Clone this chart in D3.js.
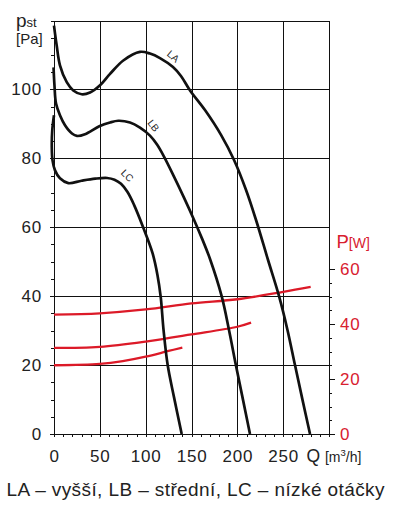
<!DOCTYPE html>
<html lang='cs'>
<head>
  <meta charset='UTF-8'>
  <title>Charakteristika ventilátoru</title>
  <style>
  body {
    margin: 0;
    background: #fff;
  }
  svg {
    display: block;
    font-family: 'Liberation Sans', Arial, sans-serif;
  }
  .grid line {
    stroke: #111;
    stroke-width: 1;
    shape-rendering: crispEdges;
  }
  .tick line {
    stroke: #111;
    shape-rendering: crispEdges;
  }
  .tick text {
    font-size: 17px;
    letter-spacing: 0.8px;
    fill: #222;
  }
  .axis-p .tick text {
    fill: #d8202f;
  }
  .curve {
    fill: none;
    stroke: #111;
    stroke-width: 2.7;
  }
  .power {
    fill: none;
    stroke: #dc1a28;
    stroke-width: 2.3;
  }
  .curve-label {
    font-size: 10px;
    fill: #222;
  }
  </style>
  <script src='https://d3js.org/d3.v7.min.js'></script>
</head>
<body>
  <script>

  // pressure curves [Q m3/h, pst Pa]
  var curveLA = [[0, 118.5], [2.9, 112.8], [6.5, 107], [13.9, 102.1], [21, 99.7], [30.2, 98.6],
    [39.3, 99.1], [50.2, 101.2], [61.1, 104.5], [75.6, 108.4], [93.8, 110.9], [104.7, 110.4],
    [115.6, 109.1], [129.8, 106.5], [138.5, 103.9], [148.4, 99.7], [164.7, 94], [182.2, 86.8],
    [196.4, 79.5], [209.5, 70.8], [220.4, 62.1], [233.5, 50.5], [245.5, 40], [254.7, 30.2],
    [262.9, 20], [271.1, 9.9], [279.3, 0]];
  var curveLB = [[-0.5, 106.4], [0.5, 101.2], [2.2, 95.9], [6.5, 92.5], [12, 89.6], [19.6, 87.2],
    [25, 86.5], [33.8, 87], [49.4, 89.3], [61.1, 90.4], [70.1, 90.9], [82.9, 90.4], [93.8, 88.9],
    [104.7, 86.6], [112.4, 84], [120, 80.5], [130.9, 74.7], [141.8, 68.6], [152.7, 62.2],
    [161.5, 56.7], [170.2, 50.8], [182.9, 40], [190.9, 30.2], [198.5, 19.9], [206.2, 9.9],
    [213.8, 0]];
  var curveLC = [[0, 92.5], [-1.9, 88.1], [-2.4, 83.2], [-1.6, 79.4], [1.1, 76.5], [6.5, 74.2],
    [15.6, 72.8], [30, 73.5], [45, 74.1], [58, 74.3], [66, 73.8], [73.1, 72.6], [80.2, 70.2],
    [87.3, 66.5], [97.1, 60.1], [107.5, 52.5], [112.9, 46.1], [116.4, 39.8], [119.5, 30.2],
    [124, 20], [130.9, 10.7], [139.3, 0]];

  // input power curves [Q m3/h, P W]
  var powerLA = [[0, 43.4], [50, 43.9], [100, 45.3], [150, 47.5], [200, 49], [250, 51.7], [280, 53.5]];
  var powerLB = [[0, 31.3], [50, 31.7], [100, 33.6], [150, 36.2], [200, 39], [215, 40.5]];
  var powerLC = [[0, 25], [50, 25.5], [75, 26.5], [100, 28.1], [125, 30.2], [140, 31.4]];

  // curve names and where their labels sit [Q, Pa, angle]
  var curveNames = ['LA', 'LB', 'LC'];
  var labelSpots = [[130, 109.6, 40], [108.5, 89.5, 52], [80, 75, 45]];

  // tick values
  var qTicks = [0, 50, 100, 150, 200, 250];
  var paTicks = [0, 20, 40, 60, 80, 100];
  var wTicks = [0, 20, 40, 60];

  var svgWidth = 399;
  var svgHeight = 513;

  var svg = d3.select('body').append('svg')
    .attr('width', svgWidth)
    .attr('height', svgHeight);

  var x = d3.scaleLinear().domain([0, 300]).range([54, 329]);
  var y = d3.scaleLinear().domain([0, 120]).range([434, 20.5]);
  var yP = d3.scaleLinear().domain([0, 60]).range([434, 269]);

  // grid

  var grid = svg.append('g').attr('class', 'grid');

  grid.selectAll('.vline')
    .data(d3.range(0, 301, 50))
    .enter()
    .append('line')
    .attr('x1', function (d) { return Math.round(x(d)) + 0.5; })
    .attr('x2', function (d) { return Math.round(x(d)) + 0.5; })
    .attr('y1', y(120))
    .attr('y2', y(0));

  grid.selectAll('.hline')
    .data(d3.range(0, 121, 20))
    .enter()
    .append('line')
    .attr('y1', function (d) { return Math.round(y(d)) + 0.5; })
    .attr('y2', function (d) { return Math.round(y(d)) + 0.5; })
    .attr('x1', x(0))
    .attr('x2', x(300));

  // axes

  function noDomain(g) { g.select('.domain').remove(); }

  svg.append('g')
    .attr('transform', 'translate(0,' + y(0) + ')')
    .call(d3.axisBottom(x).tickValues(d3.range(0, 301, 10)).tickSize(3).tickFormat(''))
    .call(noDomain);

  svg.append('g')
    .attr('transform', 'translate(0,' + y(0) + ')')
    .call(d3.axisBottom(x).tickValues(qTicks).tickSize(3).tickPadding(12.6))
    .call(noDomain);

  svg.append('g')
    .attr('transform', 'translate(' + x(0) + ',0)')
    .call(d3.axisLeft(y).tickValues(d3.range(0, 121, 5)).tickSize(3).tickFormat(''))
    .call(noDomain);

  svg.append('g')
    .attr('transform', 'translate(' + x(0) + ',0)')
    .call(d3.axisLeft(y).tickValues(paTicks).tickSize(4).tickPadding(8))
    .call(noDomain);

  svg.append('g')
    .attr('transform', 'translate(' + x(300) + ',0)')
    .call(d3.axisRight(yP).tickValues(d3.range(0, 61, 5)).tickSize(3).tickFormat(''))
    .call(noDomain);

  svg.append('g')
    .attr('class', 'axis-p')
    .attr('transform', 'translate(' + x(300) + ',0)')
    .call(d3.axisRight(yP).tickValues(wTicks).tickSize(6).tickPadding(5))
    .call(noDomain);

  // axis titles

  var pst = svg.append('text').attr('x', 16).attr('y', 26.7).attr('fill', '#222');
  pst.append('tspan').attr('font-size', '19px').text('p');
  pst.append('tspan').attr('font-size', '13px').text('st');

  svg.append('text')
    .attr('x', 16).attr('y', 43.5)
    .attr('font-size', '15px')
    .attr('fill', '#222')
    .text('[Pa]');

  var pw = svg.append('text').attr('x', 336.5).attr('y', 248.3).attr('fill', '#d8202f');
  pw.append('tspan').attr('font-size', '18.5px').text('P');
  pw.append('tspan').attr('font-size', '14px').text('[W]');

  var q = svg.append('text').attr('x', 306.5).attr('y', 461.7).attr('fill', '#222');
  q.append('tspan').attr('font-size', '17.5px').text('Q ');
  q.append('tspan').attr('font-size', '14px').text('[m');
  q.append('tspan').attr('font-size', '9.5px').attr('dy', -6).text('3');
  q.append('tspan').attr('font-size', '14px').attr('dy', 6).text('/h]');

  svg.append('text')
    .attr('x', 6.5).attr('y', 496)
    .attr('font-size', '19px')
    .attr('letter-spacing', '0.4px')
    .attr('fill', '#222')
    .text('LA – vyšší, LB – střední, LC – nízké otáčky');

  // curves

  var lineP = d3.line()
    .x(function (d) { return x(d[0]); })
    .y(function (d) { return y(d[1]); })
    .curve(d3.curveCatmullRom.alpha(0.5));

  var lineW = d3.line()
    .x(function (d) { return x(d[0]); })
    .y(function (d) { return yP(d[1]); })
    .curve(d3.curveCatmullRom.alpha(0.5));

  svg.selectAll('.power')
    .data([powerLA, powerLB, powerLC])
    .enter()
    .append('path')
    .attr('class', 'power')
    .attr('d', lineW);

  svg.selectAll('.curve')
    .data([curveLA, curveLB, curveLC])
    .enter()
    .append('path')
    .attr('class', 'curve')
    .attr('d', lineP);

  svg.selectAll('.curve-label')
    .data(labelSpots)
    .enter()
    .append('text')
    .attr('class', 'curve-label')
    .attr('text-anchor', 'middle')
    .attr('dy', '0.35em')
    .attr('transform', function (d) {
      return 'translate(' + x(d[0]) + ',' + y(d[1]) + ') rotate(' + d[2] + ')';
    })
    .text(function (d, i) { return curveNames[i]; });
  </script>
</body>
</html>
